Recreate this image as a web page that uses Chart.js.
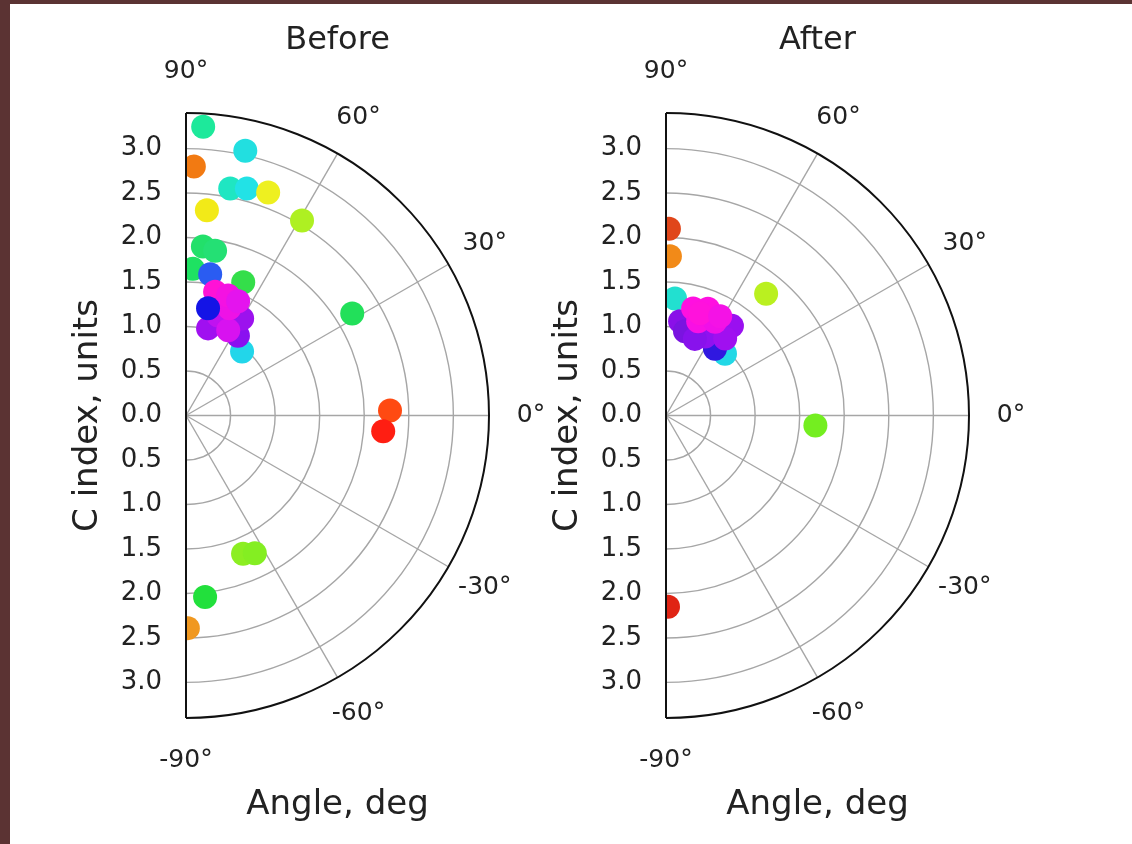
<!DOCTYPE html>
<html>
<head>
<meta charset="utf-8">
<script src="https://cdn.jsdelivr.net/npm/chart.js@4.4.1/dist/chart.umd.min.js"></script>
<style>
  html, body { margin: 0; padding: 0; background: #fff; }
  body { width: 1132px; height: 844px; position: relative; overflow: hidden; }
  .frameLeft { position: absolute; left: 0; top: 0; width: 10px; height: 844px; background: #5b3333; }
  .frameTop { position: absolute; left: 0; top: 0; width: 1132px; height: 4px; background: #5b3333; }
  canvas { position: absolute; top: 0; }
  #BeforeChart { left: 0; }
  #AfterChart { left: 480px; }
</style>
</head>
<body>
<canvas id="BeforeChart" width="566" height="844"></canvas>
<canvas id="AfterChart" width="566" height="844"></canvas>
<div class="frameLeft"></div>
<div class="frameTop"></div>
<script>
// half-disc polar axes: radius 0..rMax, angle -90..90 deg
const rMax = 3.4
const rRings = [0.5, 1.0, 1.5, 2.0, 2.5, 3.0]
const rTickLabels = [-3.0, -2.5, -2.0, -1.5, -1.0, -0.5, 0.0, 0.5, 1.0, 1.5, 2.0, 2.5, 3.0]
const angleTicks = [90, 60, 30, 0, -30, -60, -90]
const spokeAngles = [60, 30, 0, -30, -60]

// Before: angle (deg), radius (units), colour
const beforeAngle = [86.6, 77.4, 88.2, 79.0, 75.0, 69.8, 84.2, 59.3, 84.3, 80.0, 87.3, 31.6, 80.3, 66.8, 48.8,
  75.8, 57.0, 60.0, 72.2, 63.7, 68.0, 76.8, 70.7, 65.5, 78.4, 1.4, -4.6, -67.6, -63.5, -84.0, -89.5]
const beforeRadius = [3.25, 3.05, 2.80, 2.60, 2.64, 2.67, 2.32, 2.55, 1.91, 1.88, 1.65, 2.19, 1.61, 1.63, 0.955,
  1.01, 1.07, 1.26, 1.18, 1.07, 1.30, 1.43, 1.43, 1.41, 1.23, 2.29, 2.22, 1.68, 1.73, 2.05, 2.39]
const beforeColor = ['#1de99b', '#22dfe0', '#f27a12', '#1fe6c2', '#22e2e6', '#eef020', '#f2ea18', '#aef022',
  '#22e06a', '#24e074', '#1ee262', '#22e05a', '#2a5cf2', '#34de4a', '#22d6ea',
  '#a010f0', '#8a10f0', '#9c12ee', '#c012f0', '#d812f0', '#ee12e6', '#ff12d6', '#f412e2', '#e414ee', '#1414e6',
  '#ff4a12', '#ff1e12', '#8cee22', '#84ee22', '#22e03c', '#f09820']

// After
const afterAngle = [89.1, 88.6, 85.6, 50.6, 46.4, 53.8, 81.5, 53.7, 77.3, 63.7, 52.5, 69.4,
  75.8, 68.6, 71.2, 62.4, 71.6, 61.4, -3.8, -89.4]
const afterRadius = [2.10, 1.79, 1.32, 1.77, 0.96, 0.93, 1.07, 1.25, 0.97, 0.99, 1.09, 0.92,
  1.24, 1.29, 1.12, 1.19, 1.21, 1.27, 1.68, 2.15]
const afterColor = ['#e0461a', '#f28a18', '#22e0d0', '#baf020', '#22d8e6', '#3018e0', '#8a10e8', '#9a10f0',
  '#7a14e0', '#9012f0', '#a010f0', '#8812ec',
  '#ff10e0', '#ff10e0', '#f810e4', '#f010e8', '#ff12dc', '#f412e6', '#74ee20', '#e02414']

const textColor = '#222'
const fontFamily = '"DejaVu Sans", sans-serif'
const deg = Math.PI / 180

const polarGrid = {
  id: 'polarGrid',
  beforeDatasetsDraw(chart) {
    const {ctx, scales: {x, y}} = chart
    const cx = x.getPixelForValue(0), cy = y.getPixelForValue(0)
    ctx.save()
    ctx.strokeStyle = '#a6a6a6'
    ctx.lineWidth = 1.4
    rRings.forEach(r => {
      ctx.beginPath()
      ctx.ellipse(cx, cy, x.getPixelForValue(r) - cx, cy - y.getPixelForValue(r), 0, -Math.PI / 2, Math.PI / 2)
      ctx.stroke()
    })
    spokeAngles.forEach(a => {
      ctx.beginPath()
      ctx.moveTo(cx, cy)
      ctx.lineTo(x.getPixelForValue(rMax * Math.cos(a * deg)), y.getPixelForValue(rMax * Math.sin(a * deg)))
      ctx.stroke()
    })
    ctx.restore()
  },
  afterDatasetsDraw(chart) {
    const {ctx, scales: {x, y}} = chart
    const cx = x.getPixelForValue(0), cy = y.getPixelForValue(0)
    const Rx = x.getPixelForValue(rMax) - cx
    const Ry = cy - y.getPixelForValue(rMax)
    ctx.save()
    // spine: straight edge + outer arc
    ctx.strokeStyle = '#111'
    ctx.lineWidth = 2
    ctx.beginPath()
    ctx.moveTo(cx, cy - Ry)
    ctx.lineTo(cx, cy + Ry)
    ctx.stroke()
    ctx.beginPath()
    ctx.ellipse(cx, cy, Rx, Ry, 0, -Math.PI / 2, Math.PI / 2)
    ctx.stroke()
    // angle labels
    ctx.fillStyle = textColor
    ctx.font = '25px ' + fontFamily
    ctx.textAlign = 'center'
    ctx.textBaseline = 'middle'
    angleTicks.forEach(a => {
      ctx.fillText(a + '°', cx + (Rx + 42) * Math.cos(a * deg), cy - (Ry + 42) * Math.sin(a * deg))
    })
    ctx.restore()
  }
}

function makePolar(id, title, angle, radius, color) {
  return new Chart(document.getElementById(id), {
    type: 'scatter',
    data: {
      datasets: [{
        data: angle.map((a, i) => ({x: radius[i] * Math.cos(a * deg), y: radius[i] * Math.sin(a * deg)})),
        backgroundColor: color,
        borderColor: color,
        borderWidth: 0,
        pointRadius: 12,
        pointHoverRadius: 12
      }]
    },
    options: {
      responsive: false,
      animation: false,
      events: [],
      layout: {padding: {left: 0, top: 0, right: 77, bottom: 0}},
      plugins: {
        legend: {display: false},
        tooltip: {enabled: false},
        title: {
          display: true,
          text: title,
          fullSize: false,
          color: textColor,
          font: {family: fontFamily, size: 32, weight: 'normal'},
          padding: {top: 21, bottom: 53.6}
        }
      },
      scales: {
        x: {
          type: 'linear',
          min: 0,
          max: rMax,
          grid: {display: false},
          border: {display: false},
          ticks: {display: false},
          title: {
            display: true,
            text: 'Angle, deg',
            color: textColor,
            font: {family: fontFamily, size: 34},
            padding: {top: 0, bottom: 18.6}
          },
          afterFit: s => { s.height = 126 }
        },
        y: {
          type: 'linear',
          min: -rMax,
          max: rMax,
          grid: {display: false, drawTicks: false},
          border: {display: false},
          afterBuildTicks: s => { s.ticks = rTickLabels.map(v => ({value: v})) },
          ticks: {
            autoSkip: false,
            color: textColor,
            font: {family: fontFamily, size: 26},
            padding: 24,
            callback: v => Math.abs(v).toFixed(1)
          },
          title: {
            display: true,
            text: 'C index, units',
            color: textColor,
            font: {family: fontFamily, size: 34},
            padding: {top: 67.6, bottom: 0}
          },
          afterFit: s => { s.width = 186 }
        }
      }
    },
    plugins: [polarGrid]
  })
}

makePolar('BeforeChart', 'Before', beforeAngle, beforeRadius, beforeColor)
makePolar('AfterChart', 'After', afterAngle, afterRadius, afterColor)
</script>
</body>
</html>
